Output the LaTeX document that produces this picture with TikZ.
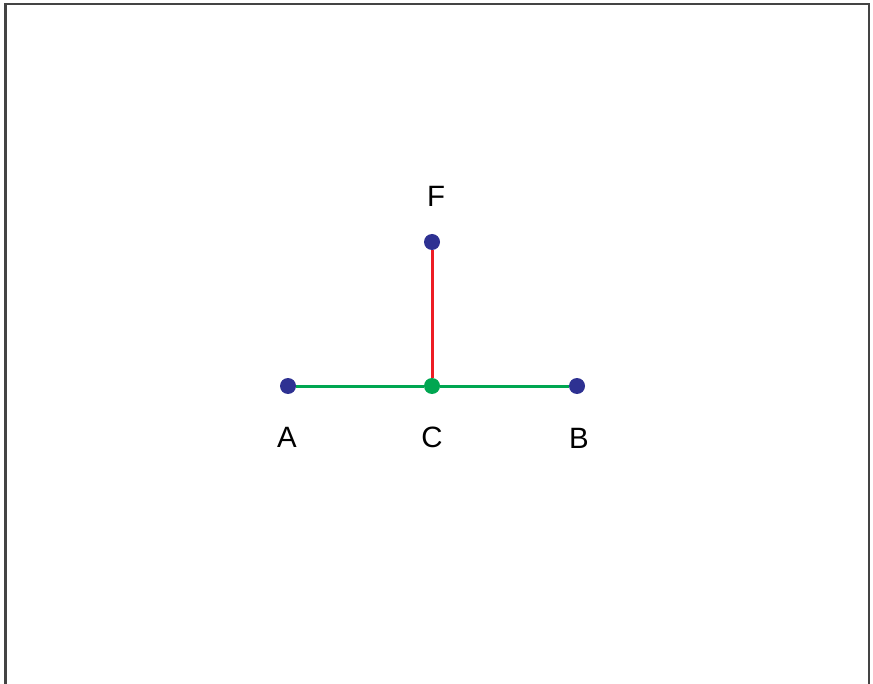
\documentclass[tikz,border=0pt]{standalone}
\usepackage{fontspec}
\setmainfont{Liberation Sans}
\usetikzlibrary{positioning}
\definecolor{dotblue}{HTML}{2E3192}
\definecolor{segreen}{HTML}{00A651}
\definecolor{segred}{HTML}{ED1C24}
\definecolor{framegray}{HTML}{444444}

\tikzset{
  pt/.style={circle, fill=dotblue, inner sep=0pt, minimum size=8pt},
  midpt/.style={pt, fill=segreen},
  tag/.style={inner sep=0pt, font=\fontsize{14.7}{17}\selectfont},
  greenseg/.style={draw=segreen, line width=1.5pt},
  redseg/.style={draw=segred, line width=1.5pt}
}

\begin{document}
\begin{tikzpicture}[x=0.5pt, y=-0.5pt]
  \useasboundingbox (0,0) rectangle (873,684);
  % frame, open at the bottom
  \draw[framegray, line width=1.3pt] (5.5,700) -- (5.5,4) -- (869,4) -- (869,700);

  % points
  \node[pt] (a) at (288,386) {};
  \node[midpt] (c) at (432,386) {};
  \node[pt] (b) at (577,386) {};
  \node[pt] (f) at (432,242) {};

  % segments
  \draw[greenseg] (a) -- (c);
  \draw[greenseg] (c) -- (b);
  \draw[redseg] (f) -- (c);

  % labels
  \node[tag] (la) at (287,437) {A};
  \node[tag] (lc) at (432,437) {C};
  \node[tag] (lb) at (579,438) {B};
  \node[tag] (lf) at (436,196) {F};
\end{tikzpicture}
\end{document}
